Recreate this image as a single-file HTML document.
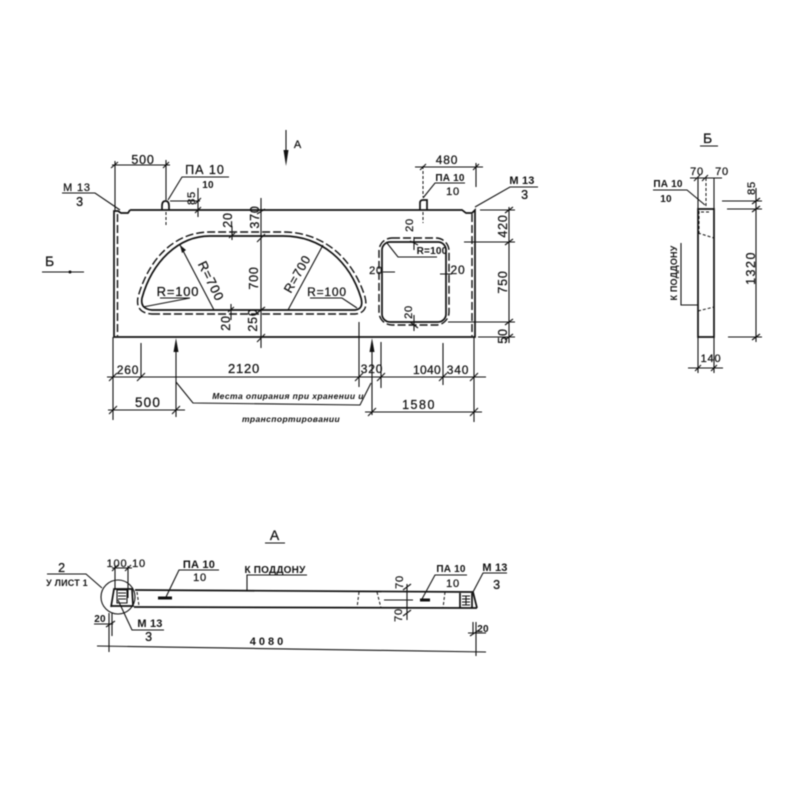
<!DOCTYPE html>
<html><head><meta charset="utf-8"><style>
html,body{margin:0;padding:0;background:#fff;width:800px;height:800px;overflow:hidden}
svg{display:block;filter:blur(.4px)}
text{font-family:"Liberation Sans",sans-serif;fill:#111;stroke:#111;stroke-width:.25;text-anchor:middle;font-size:12.5px;letter-spacing:.8px}
.s{font-size:10px;font-weight:bold;letter-spacing:.2px;stroke-width:0}
.i{font-size:8.5px;font-weight:bold;font-style:italic;letter-spacing:.4px;stroke-width:0}
.l{fill:none;stroke:#111;stroke-width:1.1}
.t{fill:none;stroke:#111;stroke-width:1.7}
.d{fill:none;stroke:#111;stroke-width:1.4;stroke-dasharray:8 3}
.c{fill:none;stroke:#111;stroke-width:1;stroke-dasharray:3 2}
</style></head><body>
<svg width="800" height="800" viewBox="0 0 800 800" xmlns="http://www.w3.org/2000/svg">
<!-- main elevation -->
<path class="t" d="M130 210H462L466 213H472L475 210V337H114V211H118L121 213H128L130 210"/>
<path class="d" d="M117.500 214V336M472 214V336"/>
<path class="t" d="M152 310H355Q364 309 361 298C350 262 322 236 283 236H210C178 236 152 262 142 298Q140 309 152 310Z"/>
<path class="d" d="M152 314H355Q369 313 365 297C353 258 323 232 283 232H210C175 232 149 258 138 297Q135 313 152 314Z"/>
<rect class="t" x="382" y="242" width="64" height="80" rx="8"/>
<rect class="d" x="379" y="238" width="70" height="87" rx="13"/>
<path class="t" d="M162 210V206Q162 201 165.500 201Q169 201 169 206V210M420 210V203Q420 200 423 200H427V210"/>
<path class="c" d="M166 212V226M423 212V223M423 166V197"/>
<!-- top dims -->
<path class="l" d="M112 165H170M115 161V210M166 160V200M111 168L118 162M163 168L169 162"/>
<text x="143" y="164">500</text>
<path class="l" d="M168 200L182 177H229"/>
<text x="205" y="174" style="letter-spacing:1px">ПА 10</text><text x="208" y="188" class="s">10</text>
<path class="l" d="M198 188V217M170 201H200M195 204L201 198M195 213L201 207"/>
<text transform="translate(195 198) rotate(-90)" style="font-size:11px">85</text>
<path class="l" d="M62 193H95L120 210"/>
<text x="77" y="191" style="font-size:11px">М 13</text><text x="80" y="206">3</text>
<path class="l" d="M261 198V348M257 214L265 209M257 242L265 234M257 313L265 307M257 342L265 334"/>
<text transform="translate(259 217) rotate(-90)">370</text>
<text transform="translate(258 278) rotate(-90)">700</text>
<text transform="translate(257 320) rotate(-90)">250</text>
<text transform="translate(232 220) rotate(-90)">20</text>
<text transform="translate(230 323) rotate(-90)">20</text>
<path class="l" d="M232 226V240M229 238L235 233M231 304V320M228 312L234 307"/>
<!-- R labels -->
<path class="l" d="M180 245L214 310M160 298H190L143 307"/>
<path fill="#111" d="M180 245L186 250L182 253Z"/>
<text transform="translate(207 283) rotate(64)" style="font-size:13px">R=700</text>
<text x="178" y="296" style="font-size:13px">R=100</text>
<path class="l" d="M323 245L288 310M310 298H342L357 308"/>
<text transform="translate(301 276) rotate(-60)">R=700</text>
<text x="327" y="296" style="font-size:12px">R=100</text>
<!-- hole dims -->
<path class="l" d="M414 237V250M410 241L418 245M387 243L398 257H437M383 272H395M440 274H452M414 315V331M410 322L418 328"/>
<text transform="translate(413 225) rotate(-90)" style="font-size:11px">20</text>
<text x="432" y="254" class="s">R=100</text>
<text x="376" y="274" style="font-size:11px">20</text>
<text x="458" y="274" style="font-size:12px">20</text>
<text transform="translate(412 312) rotate(-90)" style="font-size:11px">20</text>
<!-- right top dims -->
<path class="l" d="M415 167H483M476 163V187M420 170L426 164M473 170L479 164"/>
<text x="447" y="164" style="font-size:12px">480</text>
<path class="l" d="M423 198L435 183H465"/>
<text x="450" y="181" class="s">ПА 10</text><text x="453" y="195" style="font-size:11px">10</text>
<path class="l" d="M475 207L510 187H538"/>
<text x="522" y="184" class="s" style="font-size:11px">М 13</text><text x="525" y="199">3</text>
<path class="l" d="M509 207V343M480 210H515M464 242H515M448 322H515M478 337H515M505 213L513 207M505 245L513 239M505 325L513 319M505 340L513 334"/>
<text transform="translate(507 226) rotate(-90)">420</text>
<text transform="translate(507 282) rotate(-90)">750</text>
<text transform="translate(507 336) rotate(-90)">50</text>
<!-- bottom dims -->
<path class="l" d="M107 377H486M108 410H185M365 412H482M113 337V420M141 343V378M359 322V387M381 342V388M443 343V385M474 337V422M176 352V417M372 352V415"/>
<path class="l" d="M109 381L117 373M137 381L145 373M355 381L363 373M377 381L385 373M439 381L447 373M470 381L478 373M109 414L117 406M172 414L180 406M368 416L376 408M470 416L478 408"/>
<path fill="#111" d="M176 338L173.500 352H178.500ZM372 338L369.500 352H374.500Z"/>
<path class="l" d="M176 382L193 403L360 405L371 383"/>
<text x="128" y="374" style="font-size:12px">260</text>
<text x="244" y="373" style="font-size:13px">2120</text>
<text x="148" y="407" style="font-size:13.500px;letter-spacing:1.200px">500</text>
<text x="372" y="373" style="font-size:12px">320</text>
<text x="427" y="374" style="font-size:12px;letter-spacing:.3px">1040</text>
<text x="458" y="374" style="font-size:12px">340</text>
<text x="419" y="409" style="letter-spacing:1.500px">1580</text>
<text x="288" y="399" class="i">Места опирания при хранении и</text>
<text x="291" y="422" class="i">транспортировании</text>
<!-- section arrows -->
<path class="l" d="M286 130V158"/><path fill="#111" d="M286 166L283.500 150H288.500Z"/>
<text x="298" y="148" style="font-size:11px">А</text>
<path class="l" d="M42 272H84"/><circle cx="70" cy="272" r="1.500" fill="#111"/>
<text x="50" y="266" style="font-size:14px">Б</text>
<!-- Б view -->
<text x="708" y="143" style="font-size:14px">Б</text><path class="l" d="M700 146H718"/>
<path class="t" d="M698 209H714V337H698Z"/>
<path class="l" d="M698 178V209M714 178V209M690 178H722M694 181L700 175M702 181L708 175"/>
<path class="c" d="M706 178V207M699 211V235M701 212H711M698 233L714 238M698 311L714 307"/>
<text x="697" y="175" style="font-size:11px">70</text><text x="722" y="175" style="font-size:11px">70</text>
<path class="l" d="M653 190H687L705 205"/>
<text x="668" y="187" class="s">ПА 10</text><text x="666" y="202" class="s">10</text>
<path class="l" d="M681 243V305H698"/>
<text transform="translate(677 273) rotate(-90)" class="s" style="font-size:9px">К ПОДДОНУ</text>
<path class="l" d="M756 188V342M722 201H762M727 209H762M728 337H762M752 204L760 198M752 212L760 206M752 340L760 334"/>
<text transform="translate(755 188) rotate(-90)" style="font-size:11px">85</text>
<text transform="translate(755 268) rotate(-90)" style="letter-spacing:1.500px">1320</text>
<path class="l" d="M698 337V373M714 337V373M688 368H723M695 371L701 365M711 371L717 365"/>
<text x="711" y="362" style="font-size:11px">140</text>
<!-- А view -->
<text x="275" y="540" style="font-size:14px">А</text><path class="l" d="M265 543H285"/>
<path class="t" d="M135 590L473 592M134 607L477 608M473 592L477 608"/>
<circle class="l" cx="118" cy="597" r="17"/>
<path class="t" d="M111 607L114 589H132L133 606H111"/>
<path class="l" d="M117 590H127V603H117ZM118 593H126M118 596H126M118 599H126"/>
<path class="c" d="M137 592L139 606M359 592L357 608M377 592L381 608M445 592L443 608"/>
<path class="t" d="M460 593V608M472 593V608"/>
<path class="l" d="M462 596H470M462 599H470M462 602H470M462 605H470M466 596V605"/>
<path class="l" d="M47 574H86L102 588"/>
<text x="62" y="572">2</text><text x="67" y="586" class="s" style="font-size:9px">У ЛИСТ 1</text>
<path class="l" d="M115 566V589M128 566V598M112 568H132M112 571L118 565M125 571L131 565"/>
<text x="117" y="567" style="font-size:11px">100</text><text x="139" y="567" style="font-size:11px">10</text>
<path class="l" d="M166 597L179 570H219"/>
<path stroke="#111" stroke-width="3" d="M158 598H172M420 600H430" fill="none"/>
<text x="199" y="568" class="s" style="font-size:11px">ПА 10</text><text x="200" y="581" style="font-size:11px">10</text>
<path class="l" d="M247 590V575H307"/>
<text x="275" y="573" class="s">К ПОДДОНУ</text>
<path class="l" d="M118 600L132 630H164"/>
<text x="150" y="627" class="s" style="font-size:11px">М 13</text><text x="149" y="641">3</text>
<path class="l" d="M94 624H113M109 613V652M112 613V636M106 627L115 621"/>
<text x="100" y="622" class="s">20</text>
<path class="l" d="M97 646L486 652M476 622V656M473 622V634M468 633L486 633M470 636L479 630"/>
<text x="268" y="645" class="s" style="font-size:11px;letter-spacing:3px">4080</text>
<text x="483" y="632" class="s">20</text>
<path class="l" d="M422 599L435 575H467M473 592L483 573H507"/>
<text x="451" y="572" class="s">ПА 10</text><text x="453" y="587" style="font-size:11px">10</text>
<text x="495" y="571" class="s" style="font-size:11px">М 13</text><text x="497" y="589">3</text>
<path class="l" d="M407 584V620M384 600H413M403 590L411 584M403 616L411 610"/>
<text transform="translate(403 582) rotate(-90)" style="font-size:11px">70</text>
<text transform="translate(402 615) rotate(-90)" style="font-size:11px">70</text>
</svg>
</body></html>
